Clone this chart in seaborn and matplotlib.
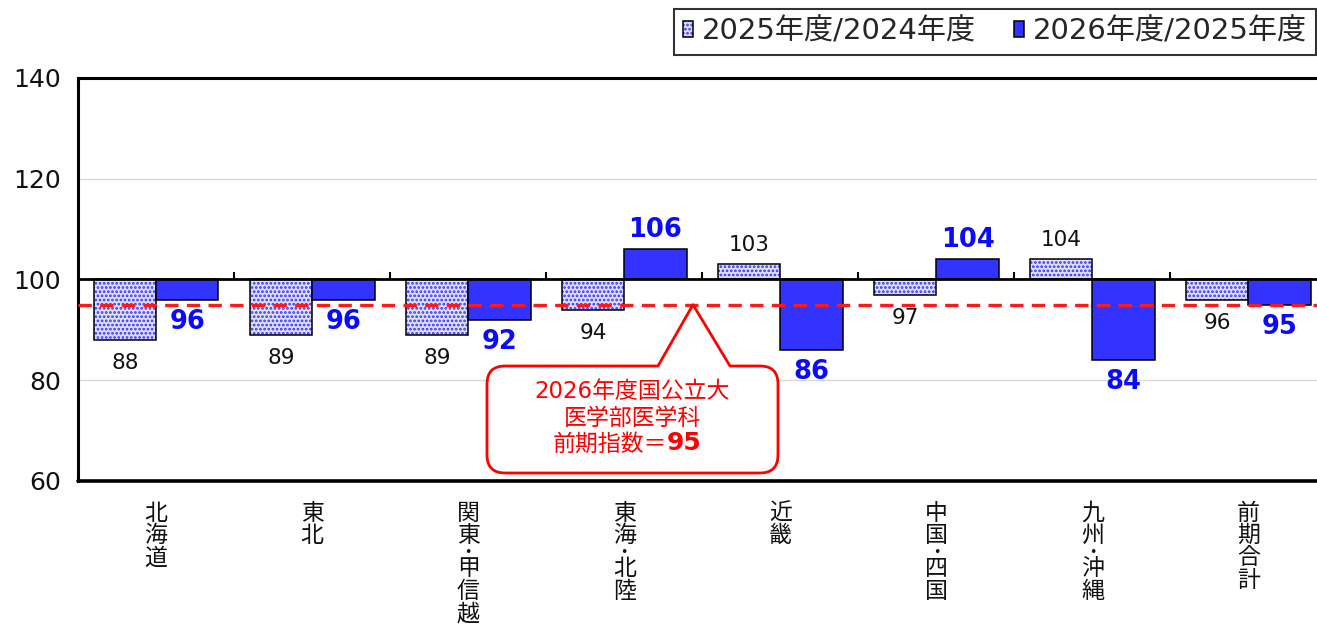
import numpy as np
import pandas as pd
import matplotlib
matplotlib.use("Agg")
import matplotlib.pyplot as plt
from matplotlib.path import Path
from matplotlib.patches import PathPatch
import seaborn as sns

# ---------------- data ----------------
regions = ["北海道", "東北", "関東・甲信越", "東海・北陸", "近畿", "中国・四国", "九州・沖縄", "前期合計"]
series_names = ["2025年度/2024年度", "2026年度/2025年度"]
ratio_2025 = [88, 89, 89, 94, 103, 97, 104, 96]
ratio_2026 = [96, 96, 92, 106, 86, 104, 84, 95]
base_value = 100
index_2026 = 95
yticks = [60, 80, 100, 120, 140]
callout_lines = ["2026年度国公立大", "医学部医学科", "前期指数＝"]

# ---------------- style ----------------
sns.set_theme(style="white")
plt.rcParams["font.family"] = ["DejaVu Sans", "Noto Sans CJK JP"]
plt.rcParams["hatch.linewidth"] = 1.3

W, H = 1317, 626
fig = plt.figure(figsize=(W / 100, H / 100), dpi=100)
ax_left, ax_right, ax_top, ax_bot = 78, 1326.5, 78, 481
ax = fig.add_axes([ax_left / W, (H - ax_bot) / H, (ax_right - ax_left) / W, (ax_bot - ax_top) / H])

df = pd.DataFrame({
    "region": regions * 2,
    "series": [series_names[0]] * len(regions) + [series_names[1]] * len(regions),
    "value": ratio_2025 + ratio_2026,
})
df["dev"] = df["value"] - base_value

c_hatch_bg = "#dedeff"
c_blue = "#3333ff"
sns.barplot(data=df, x="region", y="dev", hue="series", order=regions, hue_order=series_names,
            palette=[c_hatch_bg, c_blue], saturation=1, width=0.8, errorbar=None,
            bottom=base_value, edgecolor="black", linewidth=1.1, legend=False, ax=ax, zorder=3)

n = len(regions)
bars = list(ax.patches)
for p in bars[:n]:
    p.set_hatch("....")
    p._hatch_color = (0.2, 0.2, 1.0, 1.0)

ax.set_xlim(-0.5, n - 0.5)
ax.set_ylim(60, 140)
ax.set_xlabel("")
ax.set_ylabel("")

# grid
ax.set_yticks(yticks)
ax.set_yticklabels([str(t) for t in yticks], fontsize=18, color="#111111")
ax.tick_params(axis="y", length=0, pad=12)
ax.yaxis.grid(True, color="#d9d9d9", linewidth=1.0, zorder=0)
ax.set_axisbelow(True)

# spines
for s in ["left", "top"]:
    ax.spines[s].set_linewidth(2.2)
    ax.spines[s].set_color("black")
ax.spines["right"].set_visible(False)
ax.spines["bottom"].set_position(("data", base_value))
ax.spines["bottom"].set_linewidth(2.0)
ax.spines["bottom"].set_color("black")
ax.spines["bottom"].set_zorder(4)
ax.axhline(60, color="black", linewidth=2.6, clip_on=False, zorder=5)

# x ticks at category boundaries (on the 100 line), labels drawn manually
ax.set_xticks(np.arange(n - 1) + 0.5)
ax.set_xticklabels([])
ax.tick_params(axis="x", direction="in", length=5, width=1.5, color="black", bottom=True)

# vertical category labels
px2pt = 72 / 100
for i, name in enumerate(regions):
    y = 513
    prev_dot = False
    for k, ch in enumerate(name):
        if k > 0:
            if ch == "・":
                y += 17
            elif prev_dot:
                y += 16
            else:
                y += 22.5
        disp = "•" if ch == "・" else ch
        ax.annotate(disp, xy=(i, 60), xycoords="data", xytext=(0, -(y - ax_bot) * px2pt),
                    textcoords="offset points", ha="center", va="center",
                    fontsize=16.5 if ch != "・" else 9, color="#111111", annotation_clip=False)
        prev_dot = ch == "・"

# reference dashed line
ax.axhline(index_2026, color="#ff1a1a", linewidth=2.4, linestyle=(0, (4, 2.5)), zorder=6)

# value labels
for i, v in enumerate(ratio_2025):
    d = 14 if v >= base_value else -16.5
    ax.annotate(str(v), xy=(i - 0.2, v), xytext=(0, d), textcoords="offset points",
                ha="center", va="center", fontsize=15.5, color="#111111", zorder=7)
for i, v in enumerate(ratio_2026):
    d = 14 if v >= base_value else -16
    ax.annotate(str(v), xy=(i + 0.2, v), xytext=(0, d), textcoords="offset points",
                ha="center", va="center", fontsize=18.5, fontweight="bold", color="#0a0aff", zorder=7)

# callout box (rounded rectangle with pointer to the index line)
ppx = (ax_right - ax_left) / n          # pixels per x unit
ppy = (ax_bot - ax_top) / 80            # pixels per y unit
def dx(px):
    return (px - ax_left) / ppx - 0.5
def dy(py):
    return 140 - (py - ax_top) / ppy
x0, x1 = dx(487), dx(778)
y1, y0 = dy(366), dy(473)
xa, xb = dx(658), dx(730)
xt = dx(693)
rx, ry = 18 / ppx, 18 / ppy
verts = [
    (x0 + rx, y1), (xa, y1), (xt, index_2026), (xb, y1), (x1 - rx, y1),
    (x1, y1), (x1, y1 - ry),
    (x1, y0 + ry),
    (x1, y0), (x1 - rx, y0),
    (x0 + rx, y0),
    (x0, y0), (x0, y0 + ry),
    (x0, y1 - ry),
    (x0, y1), (x0 + rx, y1),
    (x0 + rx, y1),
]
codes = [Path.MOVETO, Path.LINETO, Path.LINETO, Path.LINETO, Path.LINETO,
         Path.CURVE3, Path.CURVE3,
         Path.LINETO,
         Path.CURVE3, Path.CURVE3,
         Path.LINETO,
         Path.CURVE3, Path.CURVE3,
         Path.LINETO,
         Path.CURVE3, Path.CURVE3,
         Path.CLOSEPOLY]
ax.add_patch(PathPatch(Path(verts, codes), facecolor="white", edgecolor="#ff0000",
                       linewidth=2.0, zorder=8, joinstyle="round"))
cx = dx(632.5)
red = "#ff0000"
ax.text(cx, dy(392), callout_lines[0], ha="center", va="center", fontsize=16.5, color=red, zorder=9)
ax.text(cx, dy(418), callout_lines[1], ha="center", va="center", fontsize=16.5, color=red, zorder=9)
ax.text(dx(667), dy(444), callout_lines[2], ha="right", va="center", fontsize=16.5, color=red, zorder=9)
ax.text(dx(667), dy(443), str(index_2026), ha="left", va="center", fontsize=18,
        fontweight="bold", color=red, zorder=9)

# legend
leg = fig.legend(handles=[bars[0], bars[n]], labels=series_names, loc="upper right",
                 bbox_to_anchor=(1316 / W, 1 - 9 / H), ncol=2, fontsize=21, frameon=True,
                 fancybox=False, edgecolor="black", handlelength=0.36, handleheight=0.47,
                 handletextpad=0.3, columnspacing=1.3, borderpad=0.3, borderaxespad=0)
leg.get_frame().set_linewidth(1.5)

fig.savefig("out.png", dpi=100)
